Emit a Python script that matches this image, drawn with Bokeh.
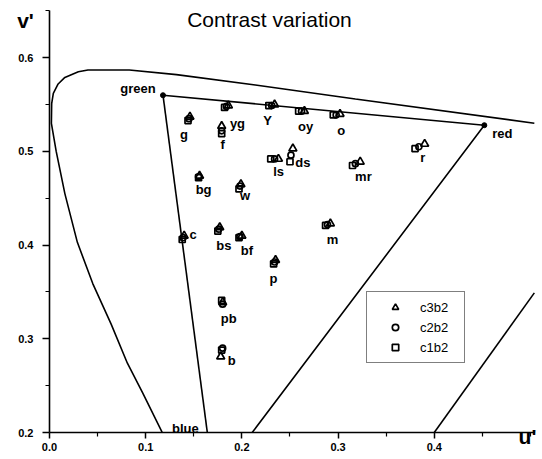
from bokeh.plotting import figure
from bokeh.models import (ColumnDataSource, LabelSet, Label, FixedTicker, Legend,
                          LegendItem, Range1d)
from bokeh.core.properties import value
from bokeh.embed import file_html
from bokeh.resources import INLINE

# ---------------- data ----------------
names = ["g", "yg", "f", "Y", "oy", "o", "r", "mr", "ls", "ds",
         "bg", "w", "c", "bs", "bf", "m", "p", "pb", "b"]

c1b2_u = [0.144, 0.182, 0.179, 0.228, 0.259, 0.295, 0.380, 0.315, 0.230, 0.250,
          0.155, 0.197, 0.138, 0.175, 0.197, 0.287, 0.233, 0.179, 0.179]
c1b2_v = [0.533, 0.547, 0.519, 0.549, 0.543, 0.539, 0.503, 0.485, 0.492, 0.489,
          0.472, 0.460, 0.406, 0.415, 0.408, 0.421, 0.380, 0.341, 0.288]

c2b2_u = [0.145, 0.184, 0.179, 0.231, 0.262, 0.298, 0.384, 0.318, 0.234, 0.251,
          0.155, 0.198, 0.139, 0.176, 0.198, 0.289, 0.234, 0.180, 0.180]
c2b2_v = [0.535, 0.548, 0.522, 0.549, 0.543, 0.539, 0.505, 0.487, 0.492, 0.496,
          0.473, 0.463, 0.408, 0.417, 0.409, 0.422, 0.382, 0.337, 0.290]

c3b2_u = [0.146, 0.186, 0.179, 0.234, 0.265, 0.302, 0.390, 0.323, 0.238, 0.253,
          0.156, 0.199, 0.140, 0.177, 0.200, 0.292, 0.235, 0.180, 0.178]
c3b2_v = [0.537, 0.549, 0.527, 0.550, 0.543, 0.540, 0.508, 0.489, 0.492, 0.503,
          0.474, 0.465, 0.410, 0.419, 0.410, 0.423, 0.384, 0.339, 0.281]

# spectrum locus (as drawn in the picture)
locus_u = [0.127, 0.116, 0.097, 0.081, 0.064, 0.045, 0.029, 0.016, 0.007, 0.002,
           0.0023, 0.004, 0.009, 0.016, 0.030, 0.040, 0.083, 0.132, 0.214, 0.318,
           0.505, 0.520]
locus_v = [0.180, 0.2025, 0.242, 0.274, 0.316, 0.359, 0.403, 0.455, 0.500, 0.530,
           0.551, 0.562, 0.572, 0.579, 0.585, 0.587, 0.587, 0.582, 0.571, 0.556,
           0.530, 0.528]

# purple line
purple_u = [0.393, 0.520]
purple_v = [0.190, 0.372]

# display gamut: green, red, blue
gamut_names = ["green", "red", "blue"]
gamut_u = [0.118, 0.452, 0.171]
gamut_v = [0.560, 0.528, 0.146]

x_ticks = [0.0, 0.1, 0.2, 0.3, 0.4]
x_tick_labels = ["0.0", "0.1", "0.2", "0.3", "0.4"]
x_minor = [0.05, 0.15, 0.25, 0.35, 0.45, 0.5]
y_ticks = [0.2, 0.3, 0.4, 0.5, 0.6]
y_tick_labels = ["0.2", "0.3", "0.4", "0.5", "0.6"]
y_minor = [0.25, 0.35, 0.45, 0.55, 0.65]

# axis extents (the drawn axes)
U_MIN, U_MAX = 0.0, 0.504
V_MIN, V_MAX = 0.2, 0.65

# label offsets in screen pixels (style)
lab_dx = [-5, 11, 1, -4, 4, 5, 4, 8, 4, 12, 5, 5, 10, 5, 7, 5, -1, 6, 9]
lab_dy = [-16, -17, -14, -15, -15, -16, -11, -13, -13, -7, -13, -9, 3, -16, -14, -15, -16, -14, -12]

FONT = "Liberation Sans"


def clip_polyline(us, vs):
    """Clip a polyline to the axes box; returns lists of runs."""
    runs_x, runs_y = [], []
    last = None
    for i in range(len(us) - 1):
        u0, v0, u1, v1 = us[i], vs[i], us[i + 1], vs[i + 1]
        du, dv = u1 - u0, v1 - v0
        t0, t1 = 0.0, 1.0
        ok = True
        for pp, qq in ((-du, u0 - U_MIN), (du, U_MAX - u0), (-dv, v0 - V_MIN), (dv, V_MAX - v0)):
            if pp == 0:
                if qq < 0:
                    ok = False
            else:
                r = qq / pp
                if pp < 0:
                    t0 = max(t0, r)
                else:
                    t1 = min(t1, r)
        if not ok or t0 > t1:
            last = None
            continue
        a = (u0 + t0 * du, v0 + t0 * dv)
        b = (u0 + t1 * du, v0 + t1 * dv)
        if last is not None and abs(last[0] - a[0]) < 1e-12 and abs(last[1] - a[1]) < 1e-12:
            runs_x[-1].append(b[0])
            runs_y[-1].append(b[1])
        else:
            runs_x.append([a[0], b[0]])
            runs_y.append([a[1], b[1]])
        last = b
    return runs_x, runs_y


p = figure(width=540, height=455, x_range=Range1d(-0.0509, 0.5104),
           y_range=Range1d(0.1755, 0.6611),
           output_backend="svg", toolbar_location=None, title=None,
           min_border_left=0, min_border_right=0, min_border_top=0, min_border_bottom=0)
p.grid.visible = False
p.outline_line_color = None
p.background_fill_color = "white"
p.border_fill_color = "white"

# axes drawn at u'=0 and v'=0.2
xa = p.xaxis[0]
ya = p.yaxis[0]
xa.fixed_location = V_MIN
ya.fixed_location = U_MIN
xa.bounds = (U_MIN, U_MAX)
ya.bounds = (V_MIN, V_MAX)
for ax in (xa, ya):
    ax.axis_line_width = 1.6
    ax.axis_line_color = "black"
    ax.major_tick_line_width = 1.5
    ax.minor_tick_line_width = 1.2
    ax.major_tick_in = 0
    ax.minor_tick_in = 0
    ax.minor_tick_out = 4
    ax.major_label_text_font = FONT
    ax.major_label_text_font_style = "bold"
    ax.major_label_text_font_size = "11px"
    ax.major_label_text_color = "black"

xa.ticker = FixedTicker(ticks=x_ticks, minor_ticks=x_minor)
xa.major_label_overrides = dict(zip(x_ticks, x_tick_labels))
xa.major_tick_out = 6
xa.major_label_standoff = 4
ya.ticker = FixedTicker(ticks=y_ticks, minor_ticks=y_minor)
ya.major_label_overrides = dict(zip(y_ticks, y_tick_labels))
ya.major_tick_out = 7
ya.major_label_standoff = 9

# locus, purple line, gamut triangle (clipped to the axes box)
for us, vs in ((locus_u, locus_v), (purple_u, purple_v),
               (gamut_u + gamut_u[:1], gamut_v + gamut_v[:1])):
    rx, ry = clip_polyline(us, vs)
    p.multi_line(rx, ry, line_color="black", line_width=1.6)
p.scatter(gamut_u[:2], gamut_v[:2], marker="circle", size=5, color="black")

# data series
src3 = ColumnDataSource(dict(u=c3b2_u, v=c3b2_v))
src2 = ColumnDataSource(dict(u=c2b2_u, v=c2b2_v, name=names, dx=lab_dx, dy=lab_dy))
src1 = ColumnDataSource(dict(u=c1b2_u, v=c1b2_v))
r3 = p.scatter("u", "v", source=src3, marker="triangle", size=8, fill_color=None,
               line_color="black", line_width=1.7)
r2 = p.scatter("u", "v", source=src2, marker="circle", size=6, fill_color=None,
               line_color="black", line_width=1.7)
r1 = p.scatter("u", "v", source=src1, marker="square", size=6, fill_color=None,
               line_color="black", line_width=1.7)

labels = LabelSet(x="u", y="v", text="name", source=src2, x_offset="dx", y_offset="dy",
                  text_align="center", text_baseline="middle", text_font=value(FONT),
                  text_font_style="bold", text_font_size="13px", text_color="black")
p.add_layout(labels)

# gamut labels
lab_kw = dict(text_font=FONT, text_font_style="bold", text_font_size="13px",
              text_color="black")
p.add_layout(Label(x=gamut_u[0], y=gamut_v[0], x_offset=-25, y_offset=7, text=gamut_names[0],
                   text_align="center", text_baseline="middle", **lab_kw))
p.add_layout(Label(x=gamut_u[1], y=gamut_v[1], x_offset=18, y_offset=-8, text=gamut_names[1],
                   text_align="center", text_baseline="middle", **lab_kw))
# where the green-blue edge crosses the u' axis
t = (gamut_v[0] - V_MIN) / (gamut_v[0] - gamut_v[2])
u_cross = gamut_u[0] + t * (gamut_u[2] - gamut_u[0])
p.add_layout(Label(x=u_cross, y=V_MIN, x_offset=-22, y_offset=4, text=gamut_names[2],
                   text_align="center", text_baseline="alphabetic", **lab_kw))

# title and axis names
p.add_layout(Label(x=0.2287, y=0.6413, text="Contrast variation", text_align="center",
                   text_baseline="middle", text_font=FONT, text_font_size="21px",
                   text_color="black"))
p.add_layout(Label(x=-0.0249, y=0.6397, text="v'", text_align="center",
                   text_baseline="middle", text_font=FONT, text_font_style="bold",
                   text_font_size="21px", text_color="black"))
p.add_layout(Label(x=0.4969, y=0.1963, text="u'", text_align="center",
                   text_baseline="middle", text_font=FONT, text_font_style="bold",
                   text_font_size="21px", text_color="black"))

# legend
legend = Legend(items=[LegendItem(label="c3b2", renderers=[r3]),
                       LegendItem(label="c2b2", renderers=[r2]),
                       LegendItem(label="c1b2", renderers=[r1])],
                location=(366, 92), orientation="vertical",
                label_text_font=FONT, label_text_font_size="13px", label_text_color="black",
                glyph_width=42, glyph_height=16, label_height=16, label_width=37,
                label_standoff=4, spacing=4, padding=7, margin=0,
                border_line_color="black", border_line_width=1.5,
                background_fill_color="white", background_fill_alpha=1.0)
p.add_layout(legend)

open("out.html", "w").write(file_html(p, INLINE))
